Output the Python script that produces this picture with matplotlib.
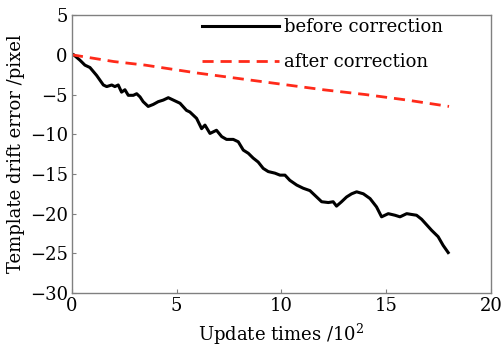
import numpy as np
import matplotlib
matplotlib.use('Agg')
import matplotlib.pyplot as plt

# drift of the tracking template, x in hundreds of updates
x_before = [0, 0.06, 0.38, 0.62, 0.86, 1.02, 1.18, 1.34, 1.5, 1.66, 1.9, 2.05, 2.21, 2.37,
            2.53, 2.69, 2.93, 3.09, 3.25, 3.4, 3.64, 3.88, 4.12, 4.36, 4.6, 4.84, 5.16,
            5.47, 5.63, 5.95, 6.19, 6.35, 6.59, 6.9, 7.15, 7.38, 7.7, 7.94, 8.18, 8.42,
            8.65, 8.89, 9.13, 9.37, 9.69, 9.93, 10.17, 10.4, 10.73, 11.04, 11.36, 11.6,
            11.92, 12.24, 12.47, 12.63, 12.87, 13.11, 13.35, 13.59, 13.91, 14.23, 14.54,
            14.78, 15.1, 15.42, 15.66, 15.98, 16.21, 16.45, 16.69, 16.93, 17.17, 17.48,
            17.72, 17.96]
y_before = [0, 0.05, -0.67, -1.3, -1.6, -2.1, -2.6, -3.2, -3.8, -4.0, -3.8, -4.0, -3.8, -4.7,
            -4.4, -5.1, -5.1, -4.9, -5.3, -5.9, -6.5, -6.25, -5.9, -5.7, -5.4, -5.7, -6.1,
            -7.0, -7.2, -8.0, -9.3, -8.85, -9.9, -9.5, -10.3, -10.65, -10.65, -10.95, -12.0,
            -12.4, -13.0, -13.5, -14.3, -14.7, -14.9, -15.15, -15.15, -15.8, -16.4, -16.8,
            -17.1, -17.7, -18.5, -18.6, -18.5, -19.05, -18.5, -17.9, -17.5, -17.25, -17.5,
            -18.1, -19.15, -20.4, -20.0, -20.2, -20.4, -20.0, -20.1, -20.2, -20.7, -21.4,
            -22.1, -22.9, -24.0, -24.9]

x_after = [0, 2, 3.5, 4.5, 6, 8, 10, 12, 14, 16, 18]
y_after = [0, -0.85, -1.3, -1.7, -2.3, -3.0, -3.7, -4.4, -5.0, -5.7, -6.5]

xticks = [0, 5, 10, 15, 20]
yticks = [5, 0, -5, -10, -15, -20, -25, -30]

plt.rcParams['font.family'] = ['DejaVu Serif']
plt.rcParams['mathtext.fontset'] = 'dejavuserif'

fig = plt.figure(figsize=(5.03, 3.51), dpi=100)
ax = fig.add_axes([0.143, 0.165, 0.833, 0.792])

ax.plot(x_before, y_before, color='black', lw=2.2, label='before correction')
ax.plot(x_after, y_after, color='#ff2a1a', lw=2.0, dashes=(4, 2.5), label='after correction')

ax.set_xlim(0, 20)
ax.set_ylim(-30, 5)
ax.set_xticks(xticks)
ax.set_yticks(yticks)
ax.set_yticklabels(['%d' % v if v >= 0 else '\u2212%d' % -v for v in yticks])
ax.tick_params(direction='in', length=3, width=0.8, color='#808080', labelsize=13, pad=3)
for s in ax.spines.values():
    s.set_color('#808080')
    s.set_linewidth(1.0)

ax.set_xlabel('Update times /10$^2$', fontsize=13, labelpad=5)
ax.set_ylabel('Template drift error /pixel', fontsize=13, labelpad=3)

ax.legend(loc='upper left', frameon=False, fontsize=13, handlelength=4.3,
          handletextpad=0.25, labelspacing=0.95, borderpad=0, borderaxespad=0,
          bbox_to_anchor=(0.31, 0.99))

fig.savefig('out.png', dpi=100)
